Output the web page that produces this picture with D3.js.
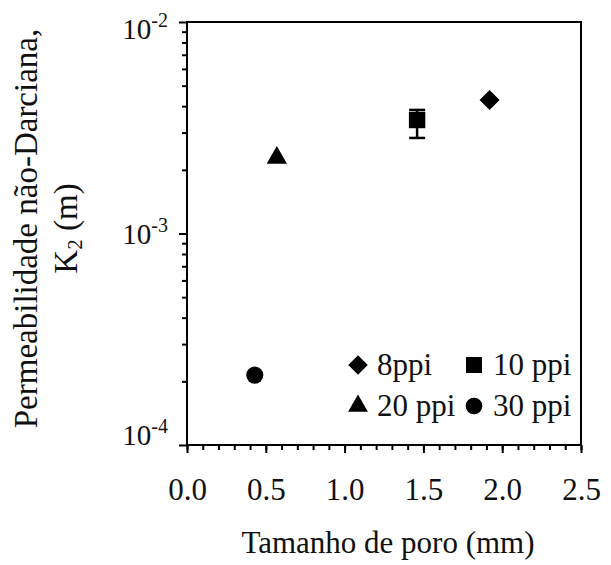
<!DOCTYPE html>
<html>
<head>
<meta charset="utf-8">
<script src="https://cdn.jsdelivr.net/npm/d3@7"></script>
<style>
  body { margin: 0; background: #fff; }
  svg { display: block; font-family: "Liberation Serif", "Times New Roman", serif; }
</style>
</head>
<body>
<svg></svg>
<script>
// data
const seriesNames = ["8ppi", "10 ppi", "20 ppi", "30 ppi"];
const poreSize = [1.92, 1.46, 0.57, 0.43];          // mm
const k2 = [4.28e-3, 3.44e-3, 2.28e-3, 2.14e-4];     // m
const k2Low = [null, 2.83e-3, null, null];
const k2High = [null, 3.84e-3, null, null];
const xTicks = [0, 0.5, 1.0, 1.5, 2.0, 2.5];
const yTicks = [1e-4, 1e-3, 1e-2];
const yTickExp = ["-4", "-3", "-2"];

// w and h of the svg
const w = 611;
const h = 565;
const margin = { top: 22, right: 30, bottom: 120, left: 187 };
const chartW = w - margin.left - margin.right;
const chartH = h - margin.top - margin.bottom;

const svg = d3.select("svg").attr("width", w).attr("height", h);
const chart = svg.append("g")
  .attr("transform", `translate(${margin.left}, ${margin.top})`);

const xScale = d3.scaleLinear().domain([0, 2.5]).range([0, chartW]);
const yScale = d3.scaleLog().domain([1e-4, 1e-2]).range([chartH, 0]);

// symbols for each series
const symbols = [
  { type: d3.symbolSquare, size: 200, rotate: 45 },
  { type: d3.symbolSquare, size: 270, rotate: 0 },
  { type: d3.symbolTriangle, size: 180, rotate: 0 },
  { type: d3.symbolCircle, size: 230, rotate: 0 }
];

// x axis: minor ticks every 0.1, labels every 0.5
const xMinor = d3.range(0, 26).map(i => i / 10);
chart.append("g")
  .attr("transform", `translate(0, ${chartH})`)
  .call(d3.axisBottom(xScale).tickValues(xMinor).tickSize(5).tickFormat(""))
  .call(g => g.select(".domain").remove())
  .call(g => g.selectAll("line").attr("stroke-width", 2));

const xAxis = chart.append("g")
  .attr("transform", `translate(0, ${chartH})`)
  .call(d3.axisBottom(xScale).tickValues(xTicks).tickSize(8).tickPadding(25)
    .tickFormat(d3.format(".1f")));
xAxis.select(".domain").remove();
xAxis.selectAll("line").attr("stroke-width", 2);
xAxis.selectAll("text")
  .attr("font-size", 31)
  .attr("font-family", "Liberation Serif, Times New Roman, serif")
  .attr("fill", "#111");

// y axis: log minor ticks
const yMinor = [];
[1e-4, 1e-3].forEach(dec => {
  for (let m = 2; m <= 9; m++) yMinor.push(dec * m);
});
chart.append("g")
  .call(d3.axisLeft(yScale).tickValues(yMinor).tickSize(5).tickFormat(""))
  .call(g => g.select(".domain").remove())
  .call(g => g.selectAll("line").attr("stroke-width", 2));

const yAxis = chart.append("g")
  .call(d3.axisLeft(yScale).tickValues(yTicks).tickSize(8).tickFormat(""));
yAxis.select(".domain").remove();
yAxis.selectAll("line").attr("stroke-width", 2);

// y tick labels as 10 with superscript exponent
const yShift = [-10, 0, 7]; // end labels pulled inward like the original
yTicks.forEach((t, i) => {
  const lbl = chart.append("text")
    .attr("x", -19)
    .attr("y", yScale(t) + 10 + yShift[i])
    .attr("text-anchor", "end")
    .attr("font-size", 29)
    .attr("fill", "#111");
  lbl.append("tspan").text("10");
  lbl.append("tspan").attr("dy", -12).attr("font-size", 20).text(yTickExp[i]);
});

// frame
chart.append("rect")
  .attr("width", chartW)
  .attr("height", chartH)
  .attr("fill", "none")
  .attr("stroke", "#000")
  .attr("stroke-width", 2);

// error bars
const errIdx = d3.range(seriesNames.length).filter(i => k2Low[i] != null);
const err = chart.selectAll(".err").data(errIdx).enter().append("g")
  .attr("stroke", "#000").attr("stroke-width", 2.5);
err.append("line")
  .attr("x1", i => xScale(poreSize[i])).attr("x2", i => xScale(poreSize[i]))
  .attr("y1", i => yScale(k2Low[i])).attr("y2", i => yScale(k2High[i]));
err.append("line")
  .attr("x1", i => xScale(poreSize[i]) - 8).attr("x2", i => xScale(poreSize[i]) + 8)
  .attr("y1", i => yScale(k2Low[i])).attr("y2", i => yScale(k2Low[i]));
err.append("line")
  .attr("x1", i => xScale(poreSize[i]) - 8).attr("x2", i => xScale(poreSize[i]) + 8)
  .attr("y1", i => yScale(k2High[i])).attr("y2", i => yScale(k2High[i]));

// points
chart.selectAll(".pt")
  .data(d3.range(seriesNames.length))
  .enter()
  .append("path")
  .attr("d", i => d3.symbol().type(symbols[i].type).size(symbols[i].size)())
  .attr("transform", i =>
    `translate(${xScale(poreSize[i])}, ${yScale(k2[i])}) rotate(${symbols[i].rotate})`)
  .attr("fill", "#000");

// legend, two columns
const legend = svg.append("g").attr("transform", "translate(358, 365)");
seriesNames.forEach((name, i) => {
  const col = i % 2, row = Math.floor(i / 2);
  const g = legend.append("g")
    .attr("transform", `translate(${col * 116}, ${row * 41})`);
  g.append("path")
    .attr("d", d3.symbol().type(symbols[i].type).size(symbols[i].size * 0.95)())
    .attr("transform", `rotate(${symbols[i].rotate})`)
    .attr("fill", "#000");
  g.append("text")
    .attr("x", 19)
    .attr("y", 10)
    .attr("font-size", 31)
    .attr("fill", "#111")
    .text(name);
});

// title X
svg.append("text")
  .attr("x", margin.left + chartW / 2 + 4)
  .attr("y", 553)
  .attr("text-anchor", "middle")
  .attr("font-size", 31)
  .attr("fill", "#111")
  .text("Tamanho de poro (mm)");

// title Y, two lines
const yTitle = svg.append("text")
  .attr("transform", `translate(37, ${margin.top + chartH / 2 - 5}) rotate(-90)`)
  .attr("text-anchor", "middle")
  .attr("font-size", 33)
  .attr("fill", "#111");
yTitle.append("tspan").attr("x", 0).attr("y", 0).text("Permeabilidade não-Darciana,");
const l2 = yTitle.append("tspan").attr("x", 0).attr("y", 40);
l2.append("tspan").text("K");
l2.append("tspan").attr("dy", 5).attr("font-size", 21).text("2");
l2.append("tspan").attr("dy", -5).text(" (m)");
</script>
</body>
</html>
